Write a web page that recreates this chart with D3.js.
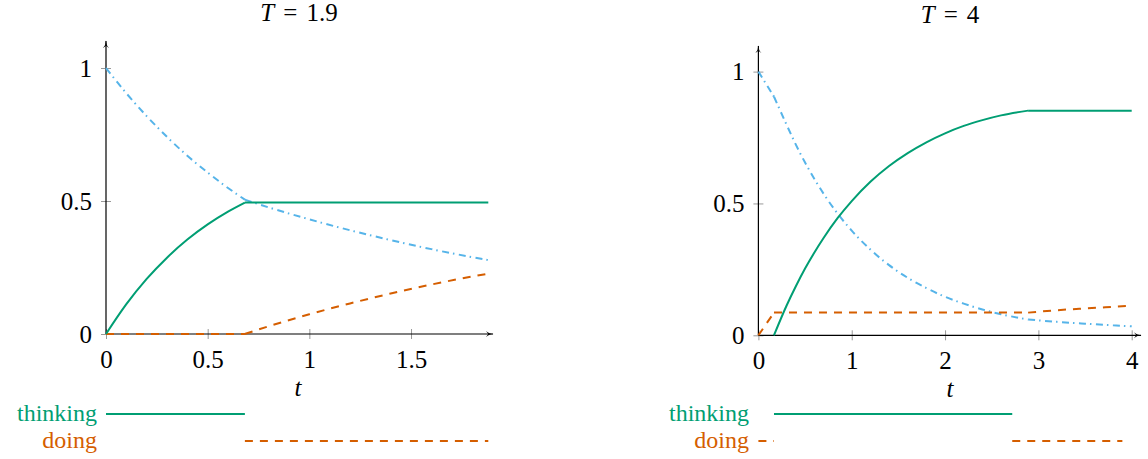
<!DOCTYPE html>
<html>
<head>
<meta charset="utf-8">
<script src="https://cdn.jsdelivr.net/npm/d3@7"></script>
<style>
  body { margin: 0; background: #fff; }
</style>
</head>
<body>
<div id="viz_container"></div>
<script>
// data: T = 1.9 panel
const leftTime     = [0, 0.1, 0.2, 0.3, 0.4, 0.5, 0.6, 0.683, 0.8, 1.0, 1.2, 1.4, 1.6, 1.8, 1.88];
const leftThinking = [0, 0.112, 0.207, 0.287, 0.355, 0.412, 0.460, 0.494, 0.494, 0.494, 0.494, 0.494, 0.494, 0.494, 0.494];
const leftDoing    = [0, 0, 0, 0, 0, 0, 0, 0, 0.029, 0.074, 0.115, 0.152, 0.186, 0.216, 0.227];
const leftIdle     = [1, 0.905, 0.819, 0.741, 0.670, 0.607, 0.549, 0.505, 0.476, 0.431, 0.390, 0.353, 0.319, 0.289, 0.278];
const leftBreaks   = [0.683];
const leftThinkingSpans = [[0, 0.683]];
const leftDoingSpans    = [[0.683, 1.88]];
const leftXTicks = [0, 0.5, 1, 1.5];

// data: T = 4 panel
const rightTime     = [0, 0.167, 0.3, 0.4, 0.5, 0.6, 0.7, 0.85, 1.0, 1.2, 1.4, 1.6, 1.8, 2.0, 2.2, 2.4, 2.6, 2.89, 3.2, 3.5, 3.8, 4.0];
const rightThinking = [null, 0, 0.111, 0.185, 0.253, 0.314, 0.370, 0.445, 0.509, 0.582, 0.642, 0.691, 0.732, 0.766, 0.794, 0.816, 0.834, 0.852, 0.852, 0.852, 0.852, 0.852];
const rightDoing    = [0, 0.086, 0.086, 0.086, 0.086, 0.086, 0.086, 0.086, 0.086, 0.086, 0.086, 0.086, 0.086, 0.086, 0.086, 0.086, 0.086, 0.086, 0.095, 0.102, 0.108, 0.112];
const rightIdle     = [1, 0.905, 0.800, 0.724, 0.655, 0.593, 0.536, 0.461, 0.397, 0.325, 0.266, 0.218, 0.179, 0.146, 0.120, 0.098, 0.080, 0.060, 0.051, 0.044, 0.038, 0.034];
const rightBreaks   = [0.167, 2.89];
const rightThinkingSpans = [[0.167, 2.72]];
const rightDoingSpans    = [[0, 0.167], [2.72, 3.9]];
const rightXTicks = [0, 1, 2, 3, 4];

const yTicks = [0, 0.5, 1];

const green = "#009E73", orange = "#D55E00", blue = "#56B4E9";
const serif = "'Liberation Serif', 'Times New Roman', 'DejaVu Serif', serif";

const svg = d3.select("#viz_container")
    .append("svg")
    .attr("width", 1148)
    .attr("height", 459)
    .style("font-family", serif);

// arrow head for the axes
svg.append("defs").append("marker")
    .attr("id", "arrow")
    .attr("viewBox", "0 0 10 10")
    .attr("refX", 9).attr("refY", 5)
    .attr("markerWidth", 8).attr("markerHeight", 8)
    .attr("markerUnits", "userSpaceOnUse")
    .attr("orient", "auto")
    .append("path")
    .attr("d", "M0,1 Q4,5 10,5 Q4,5 0,9 L3,5 Z")
    .attr("fill", "#000");

function drawPanel(p) {
    const x = d3.scaleLinear().domain(p.xDomain).range(p.xRange);
    const y = d3.scaleLinear().domain([0, 1]).range(p.yRange);
    const g = svg.append("g");

    // title, math style spacing around "="
    const title = g.append("text")
        .attr("x", p.titleX).attr("y", p.titleY)
        .attr("text-anchor", "middle")
        .style("font-family", serif)
        .style("font-size", "25px");
    title.append("tspan").style("font-style", "italic").text("T");
    title.append("tspan").attr("dx", 9).text("=");
    title.append("tspan").attr("dx", 9).text(p.label);

    // x axis ticks
    const gx = g.append("g")
        .attr("transform", `translate(0, ${y(0)})`)
        .call(d3.axisBottom(x).tickValues(p.xTicks).tickSize(5).tickPadding(11).tickFormat(d3.format("")))
        .call(a => a.select(".domain").remove());
    gx.selectAll(".tick line").attr("y1", -5).attr("stroke", "#999").attr("stroke-width", 1);
    gx.selectAll(".tick text")
        .style("font-family", serif).style("font-size", "25px").attr("fill", "#000");

    // y axis ticks
    const gy = g.append("g")
        .attr("transform", `translate(${x(0)}, 0)`)
        .call(d3.axisLeft(y).tickValues(yTicks).tickSize(5).tickPadding(9).tickFormat(d3.format("")))
        .call(a => a.select(".domain").remove());
    gy.selectAll(".tick line").attr("x1", 5).attr("stroke", "#999").attr("stroke-width", 1);
    gy.selectAll(".tick text")
        .style("font-family", serif).style("font-size", "25px").attr("fill", "#000");

    // axis lines with arrows
    g.append("line")
        .attr("x1", x(0)).attr("x2", p.xArrow)
        .attr("y1", y(0)).attr("y2", y(0))
        .attr("stroke", "#000").attr("stroke-width", 1.2)
        .attr("marker-end", "url(#arrow)");
    g.append("line")
        .attr("x1", x(0)).attr("x2", x(0))
        .attr("y1", y(0)).attr("y2", p.yArrow)
        .attr("stroke", "#000").attr("stroke-width", 1.2)
        .attr("marker-end", "url(#arrow)");

    // x label
    g.append("text")
        .attr("x", p.tLabelX).attr("y", p.tLabelY)
        .attr("text-anchor", "middle")
        .style("font-family", serif)
        .style("font-size", "25px").style("font-style", "italic")
        .text("t");

    // curves, split at the phase changes so kinks stay sharp
    const cuts = [p.xDomain[0], ...p.breaks, p.xDomain[1]];
    const line = d3.line()
        .defined(d => d.v !== null)
        .x(d => x(d.t)).y(d => y(d.v))
        .curve(d3.curveMonotoneX);
    const series = [
        { values: p.idle, color: blue, dash: "7,4,1.5,4.5" },
        { values: p.doing, color: orange, dash: "8,7" },
        { values: p.thinking, color: green, dash: null }
    ];
    series.forEach(s => {
        const pts = p.time.map((t, i) => ({ t: t, v: s.values[i] }));
        for (let k = 0; k < cuts.length - 1; k++) {
            const seg = pts.filter(d => d.t >= cuts[k] - 1e-9 && d.t <= cuts[k + 1] + 1e-9 && d.v !== null);
            if (seg.length < 2) continue;
            g.append("path")
                .datum(seg)
                .attr("d", line)
                .attr("fill", "none")
                .attr("stroke", s.color)
                .attr("stroke-width", 2)
                .attr("stroke-dasharray", s.dash);
        }
    });

    // phase legend below the axis
    g.append("text")
        .attr("x", p.legendTextX).attr("y", p.legendY[0] + 7)
        .attr("text-anchor", "end")
        .style("font-family", serif)
        .style("font-size", "24px").style("fill", green)
        .text("thinking");
    g.append("text")
        .attr("x", p.legendTextX).attr("y", p.legendY[1] + 7)
        .attr("text-anchor", "end")
        .style("font-family", serif)
        .style("font-size", "24px").style("fill", orange)
        .text("doing");
    g.selectAll(".think-span")
        .data(p.thinkingSpans)
        .join("line")
        .attr("x1", d => x(d[0])).attr("x2", d => x(d[1]))
        .attr("y1", p.legendY[0]).attr("y2", p.legendY[0])
        .attr("stroke", green).attr("stroke-width", 2);
    g.selectAll(".do-span")
        .data(p.doingSpans)
        .join("line")
        .attr("x1", d => x(d[0])).attr("x2", d => x(d[1]))
        .attr("y1", p.legendY[1]).attr("y2", p.legendY[1])
        .attr("stroke", orange).attr("stroke-width", 2)
        .attr("stroke-dasharray", "8,7");
}

drawPanel({
    label: "1.9",
    time: leftTime, thinking: leftThinking, doing: leftDoing, idle: leftIdle,
    breaks: leftBreaks, thinkingSpans: leftThinkingSpans, doingSpans: leftDoingSpans,
    xTicks: leftXTicks,
    xDomain: [0, 1.88], xRange: [106, 488.3], yRange: [334, 68],
    xArrow: 493, yArrow: 41,
    titleX: 299, titleY: 21,
    tLabelX: 298, tLabelY: 396,
    legendTextX: 97, legendY: [414, 441]
});

drawPanel({
    label: "4",
    time: rightTime, thinking: rightThinking, doing: rightDoing, idle: rightIdle,
    breaks: rightBreaks, thinkingSpans: rightThinkingSpans, doingSpans: rightDoingSpans,
    xTicks: rightXTicks,
    xDomain: [0, 4], xRange: [758.4, 1131.7], yRange: [335.3, 71.6],
    xArrow: 1141, yArrow: 46,
    titleX: 950, titleY: 23,
    tLabelX: 950, tLabelY: 397,
    legendTextX: 749, legendY: [414, 441]
});
</script>
</body>
</html>
